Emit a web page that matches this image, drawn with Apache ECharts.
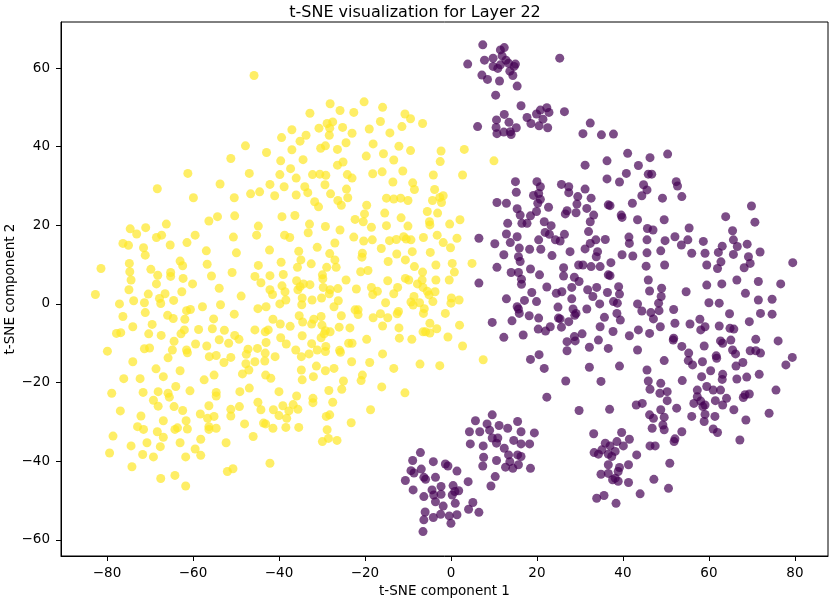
<!DOCTYPE html>
<html>
<head>
<meta charset="utf-8">
<script src="https://cdn.jsdelivr.net/npm/echarts@6/dist/echarts.min.js"></script>
<style>
  html, body { margin: 0; padding: 0; background: #fff; }
  #chart { width: 830px; height: 600px; }
</style>
</head>
<body>
<div id="chart"></div>
<script>
// tick labels
const xTicks = [-80, -60, -40, -20, 0, 20, 40, 60, 80];
const yTicks = [-60, -40, -20, 0, 20, 40, 60];

// label 1 (yellow) points
const yellowPoints = [
  [-51.2, 37.0], [-61.2, 33.2], [-68.3, 29.3], [-53.7, 30.5], [-59.9, 27.0], [-50.4, 27.0],
  [-45.8, 58.1], [-47.8, 40.2], [-28.1, 50.9], [-20.2, 51.4], [-32.8, 48.5], [-25.8, 49.2],
  [-22.6, 48.7], [-15.9, 50.0], [-10.7, 48.3], [-9.4, 47.1], [-6.6, 45.9], [-28.8, 45.9],
  [-27.5, 46.3], [-30.7, 44.7], [-28.2, 44.7], [-25.2, 44.9], [-19.0, 44.5], [-16.4, 46.4],
  [-11.4, 45.1], [-37.0, 44.3], [-39.4, 42.3], [-33.7, 42.9], [-35.1, 41.4], [-28.3, 42.9],
  [-23.0, 43.4], [-14.2, 43.5], [-24.4, 41.0], [-18.1, 40.7], [-42.9, 38.5], [-37.0, 39.2],
  [-30.3, 39.6], [-29.2, 40.2], [-26.4, 39.3], [-12.1, 40.1], [-9.4, 39.0], [-2.3, 38.9],
  [3.1, 39.3], [-19.7, 37.6], [-15.7, 38.2], [-13.3, 36.6], [-2.5, 36.2], [-39.6, 36.4],
  [-34.4, 36.7], [-26.4, 35.3], [-25.1, 36.1], [-46.9, 33.2], [-39.8, 32.9], [-37.3, 34.4],
  [-36.0, 32.0], [-32.2, 32.9], [-30.5, 33.0], [-29.1, 32.7], [-24.1, 32.9], [-23.0, 32.0],
  [-18.2, 33.1], [-16.0, 33.6], [-11.2, 33.8], [-4.1, 32.8], [2.7, 32.8], [-42.1, 30.4],
  [-38.8, 29.8], [-34.0, 29.8], [-33.3, 28.3], [-29.3, 30.3], [-24.3, 29.2], [-13.5, 31.0],
  [-8.9, 30.8], [-8.5, 29.1], [-3.8, 29.1], [-46.6, 28.0], [-44.5, 28.5], [-41.0, 27.5],
  [-36.0, 27.7], [-28.0, 28.0], [-24.0, 27.0], [-26.3, 26.3], [-31.7, 26.0], [-30.8, 24.7],
  [-25.5, 25.1], [-19.6, 25.1], [-15.0, 26.9], [-13.3, 26.7], [-11.7, 26.9], [-10.0, 26.3],
  [-4.3, 26.3], [-2.6, 27.1], [-1.8, 27.5], [-2.2, 25.8], [10.0, 36.4],
  [-56.3, 21.1], [-54.3, 22.2], [-50.3, 22.4], [-74.6, 19.1], [-73.1, 17.8], [-71.0, 19.4],
  [-66.2, 20.3], [-68.5, 16.9], [-67.3, 17.5], [-76.3, 15.4], [-75.0, 14.9], [-71.5, 14.3],
  [-71.1, 12.4], [-65.3, 15.0], [-61.4, 15.6], [-59.5, 17.5], [-50.6, 17.0], [-56.9, 13.5],
  [-49.9, 13.0], [-81.4, 9.0], [-74.8, 10.3], [-74.7, 8.2], [-74.4, 6.1], [-69.8, 8.8],
  [-68.2, 7.3], [-63.0, 10.9], [-62.4, 9.7], [-65.2, 8.0], [-65.2, 7.0], [-62.3, 6.5],
  [-60.1, 5.1], [-68.5, 5.1], [-56.7, 10.1], [-55.7, 7.1], [-50.9, 8.0], [-82.7, 2.4],
  [-74.9, 3.6], [-70.4, 2.5], [-66.5, 2.6], [-62.6, 3.1], [-53.9, 4.0], [-48.8, 2.0],
  [-77.1, 0.0], [-73.8, 0.8], [-71.3, 0.3], [-67.8, 1.4], [-67.5, 0.1], [-64.5, 0.9],
  [-76.3, -3.2], [-71.1, -2.2], [-65.9, -2.9], [-64.6, -3.7], [-61.9, -3.9], [-61.5, -1.7],
  [-60.6, -1.4], [-57.8, -0.7], [-53.6, -0.2], [-55.2, -3.8], [-50.4, -2.6], [-74.0, -5.8],
  [-70.3, -7.6], [-67.4, -8.0], [-69.5, -5.2], [-77.8, -7.5], [-76.8, -7.3], [-62.8, -7.6],
  [-62.0, -6.6], [-58.7, -6.5], [-55.5, -6.3], [-52.7, -6.7], [-50.3, -8.0], [-49.3, -9.0],
  [-53.9, -9.1], [-51.7, -10.0], [-79.9, -12.0], [-71.3, -11.4], [-70.1, -11.2], [-64.4, -9.5],
  [-64.8, -11.7], [-61.5, -11.7], [-61.3, -12.4], [-59.4, -10.2], [-56.8, -10.7], [-65.8, -13.7],
  [-56.2, -13.4], [-54.6, -13.1], [-51.2, -13.6],
  [-39.3, 22.2], [-36.3, 22.5], [-44.8, 19.8], [-45.2, 17.5], [-32.9, 20.3], [-33.2, 18.1],
  [-29.2, 19.7], [-25.8, 18.8], [-22.3, 21.5], [-20.1, 22.9], [-20.4, 20.9], [-18.5, 19.5],
  [-15.4, 23.1], [-15.0, 19.9], [-11.6, 21.9], [-10.0, 19.8], [-5.5, 23.5], [-3.1, 23.1],
  [-5.0, 20.9], [-4.9, 20.1], [-0.3, 20.3], [2.1, 21.4], [-38.7, 17.5], [-37.5, 16.9],
  [-31.1, 14.4], [-27.0, 15.5], [-22.6, 17.0], [-20.3, 16.0], [-18.3, 16.3], [-16.2, 14.1],
  [-14.3, 16.1], [-12.7, 16.4], [-11.0, 17.1], [-10.4, 16.5], [-9.3, 16.3], [-6.4, 16.9],
  [-3.2, 17.5], [-1.8, 15.6], [-0.1, 14.3], [1.4, 16.7], [-42.2, 13.7], [-35.4, 13.4],
  [-34.9, 11.2], [-39.5, 10.6], [-44.8, 9.8], [-32.5, 10.2], [-28.2, 12.8], [-27.0, 11.2],
  [-26.7, 9.3], [-28.9, 9.3], [-35.7, 9.3], [-20.6, 12.9], [-20.7, 11.9], [-14.6, 10.8],
  [-12.6, 12.7], [-10.6, 11.2], [-9.0, 13.3], [-8.5, 9.5], [-3.5, 9.9], [-4.8, 13.1],
  [0.3, 10.3], [0.8, 8.1], [4.9, 10.3], [-45.6, 7.0], [-44.2, 5.4], [-42.1, 7.2],
  [-39.0, 7.5], [-35.9, 5.9], [-34.3, 5.1], [-32.8, 4.9], [-29.9, 7.4], [-29.8, 6.4],
  [-24.4, 6.1], [-21.0, 8.2], [-19.3, 8.5], [-14.7, 5.9], [-10.6, 6.5], [-9.8, 6.1],
  [-7.8, 5.1], [-6.6, 8.1], [-6.7, 6.1], [-3.5, 6.1], [-0.4, 6.1], [-42.1, 3.6],
  [-41.5, 2.4], [-39.3, 4.6], [-38.6, 3.1], [-38.4, 1.0], [-39.8, 0.0], [-35.6, 3.6],
  [-35.1, 4.4], [-34.6, 1.5], [-34.7, -0.2], [-32.3, 1.0], [-30.1, 1.5], [-29.7, 4.2],
  [-28.1, 3.6], [-26.3, 3.9], [-28.3, 2.6], [-27.2, -0.7], [-26.2, 0.8], [-22.0, 3.8],
  [-18.5, 4.2], [-18.2, 2.4], [-17.1, 3.2], [-15.2, 0.3], [-13.3, 2.6], [-12.4, 4.2],
  [-8.6, 1.9], [-9.3, 0.5], [-7.3, 0.3], [-6.5, 4.2], [-5.5, 3.2], [-5.1, 2.3],
  [-3.7, 3.1], [-4.2, 0.6], [0.1, 1.5], [0.0, 0.2], [1.9, 1.0], [-44.9, -1.2],
  [-43.0, -0.7], [-41.4, -3.9], [-39.7, -5.1], [-37.4, -5.7], [-35.3, -3.0], [-34.5, -4.6],
  [-32.4, -5.1], [-31.9, -3.9], [-30.2, -3.2], [-30.0, -5.4], [-29.2, -6.8], [-28.1, -7.1],
  [-25.5, -3.0], [-26.0, -5.9], [-23.5, -6.1], [-22.3, -1.5], [-21.6, -1.5], [-21.6, -2.7],
  [-18.1, -3.5], [-16.4, -2.5], [-15.9, -5.6], [-14.7, -3.5], [-12.2, -1.9], [-12.5, -2.5],
  [-12.1, -6.1], [-8.8, -0.3], [-6.4, -2.4], [-6.2, -1.2], [-4.9, -4.9], [-5.9, -7.1],
  [-4.9, -7.4], [-3.3, -6.3], [-1.3, -2.4], [2.0, -5.4], [-45.6, -6.6], [-43.2, -7.1],
  [-42.5, -6.6], [-43.0, -9.8], [-39.6, -8.6], [-38.3, -10.2], [-34.6, -8.1], [-32.4, -10.1],
  [-30.2, -8.6], [-29.5, -7.6], [-25.9, -11.8], [-23.8, -10.0], [-23.0, -10.0], [-19.6, -9.0],
  [-15.9, -12.7], [-12.0, -8.7], [-9.1, -9.0], [-6.5, -7.1], [-0.7, -8.4], [2.7, -10.7],
  [-45.0, -11.3], [-47.2, -11.5], [-47.6, -12.8], [-43.2, -12.5], [-40.9, -13.4], [-36.1, -11.7],
  [-34.8, -13.4], [-33.0, -12.7], [-31.1, -11.7], [-29.1, -10.8], [-29.2, -12.1], [-25.7, -12.3],
  [-74.0, -14.7], [-52.8, -14.9], [-47.7, -15.2], [-45.6, -14.7], [-43.3, -14.5], [-31.3, -15.8],
  [-27.2, -16.4], [-29.2, -17.0], [-34.8, -16.8], [-68.6, -16.5], [-63.0, -17.0], [-66.9, -18.5],
  [-76.1, -19.0], [-72.3, -19.0], [-55.1, -18.1], [-57.4, -19.3], [-48.5, -17.8], [-47.0, -16.8],
  [-43.1, -18.1], [-41.9, -18.9], [-34.6, -19.3], [-32.0, -18.5], [-78.9, -22.7], [-71.6, -22.5],
  [-68.1, -22.3], [-65.8, -22.7], [-65.5, -23.7], [-64.0, -21.0], [-60.7, -22.1], [-54.6, -22.5],
  [-54.6, -23.4], [-49.1, -22.3], [-46.9, -21.4], [-40.0, -22.3], [-35.9, -23.4], [-32.1, -24.0],
  [-32.1, -25.1], [-28.4, -22.0], [-76.9, -27.2], [-69.2, -24.5], [-68.1, -26.0], [-64.4, -26.1],
  [-62.4, -27.1], [-58.3, -28.0], [-56.3, -25.9], [-55.1, -28.6], [-56.6, -29.1], [-51.2, -26.8],
  [-49.2, -26.1], [-51.2, -28.5], [-44.9, -25.0], [-44.2, -26.9], [-41.3, -26.9], [-40.0, -28.4],
  [-39.1, -25.9], [-37.7, -27.2], [-36.7, -25.6], [-35.6, -26.8], [-38.2, -29.1], [-27.5, -25.0],
  [-29.0, -28.6], [-28.2, -28.2], [-72.1, -28.5], [-66.9, -29.7], [-61.6, -29.7], [-72.9, -31.2],
  [-71.5, -31.9], [-64.2, -31.9], [-63.6, -31.5], [-61.3, -31.8], [-56.3, -31.2], [-56.3, -31.9],
  [-54.6, -31.6], [-48.0, -30.5], [-43.6, -30.3], [-43.1, -30.5], [-41.4, -31.6], [-38.4, -31.4],
  [-35.4, -31.4], [-28.8, -32.0], [-78.6, -33.6], [-68.3, -32.5], [-66.9, -33.9], [-58.2, -34.4],
  [-63.0, -35.3], [-52.3, -35.3], [-46.0, -33.7], [-29.9, -35.0], [-28.5, -34.2], [-26.5, -34.7],
  [-79.4, -37.9], [-74.4, -36.1], [-70.7, -35.3], [-67.6, -36.3], [-71.7, -38.3], [-69.2, -38.9],
  [-61.7, -38.9], [-59.5, -36.9], [-58.2, -38.5], [-74.2, -41.4], [-42.1, -40.5], [-52.0, -42.6],
  [-50.7, -41.9], [-67.5, -44.4], [-64.2, -43.6], [-61.7, -46.3],
  [-23.1, -14.7], [-18.9, -14.9], [-13.3, -16.4], [-7.2, -15.3], [-2.6, -15.7], [7.5, -14.2],
  [-20.6, -18.1], [-20.9, -19.5], [-25.0, -19.6], [-25.4, -21.7], [-16.1, -21.1], [-10.7, -22.6],
  [-18.7, -26.9], [-23.2, -30.2]
];

// label 0 (purple) points
const purplePoints = [
  [7.4, 65.9], [11.5, 64.6], [12.4, 65.2], [3.9, 61.0], [7.8, 62.0], [9.8, 62.5],
  [11.9, 63.1], [12.8, 62.0], [9.8, 60.4], [10.9, 59.9], [11.5, 60.8], [13.4, 61.2],
  [14.7, 60.4], [15.0, 61.0], [7.2, 58.2], [8.5, 57.1], [11.3, 56.7], [13.7, 59.2],
  [14.4, 58.1], [15.4, 55.4], [10.4, 53.1], [25.3, 62.5], [16.3, 50.4], [12.4, 48.2],
  [10.6, 46.8], [13.5, 46.2], [10.5, 44.9], [10.7, 43.3], [12.3, 43.7], [14.0, 43.1],
  [13.8, 43.8], [15.2, 44.8], [17.7, 47.4], [18.6, 45.9], [19.9, 48.3], [20.8, 49.3],
  [22.3, 49.9], [22.8, 48.7], [21.4, 47.0], [20.5, 45.3], [22.5, 44.8], [26.4, 48.9],
  [6.2, 45.1], [32.4, 46.0], [30.7, 43.3], [31.2, 35.3], [15.0, 31.1], [20.0, 31.1],
  [20.8, 29.8], [25.7, 30.4], [27.4, 29.8], [31.2, 29.2],
  [35.0, 43.0], [37.8, 43.2], [41.1, 38.3], [46.3, 37.2], [50.4, 38.1], [36.3, 36.4],
  [43.6, 35.2], [40.8, 33.2], [36.3, 31.8], [39.2, 31.0], [45.9, 33.0], [46.7, 33.0],
  [44.8, 30.3], [45.6, 29.0], [44.4, 27.5], [52.4, 31.1], [52.7, 30.0], [53.7, 27.3],
  [49.2, 26.9], [42.2, 25.6], [37.0, 25.0], [39.6, 22.6], [39.8, 22.0], [43.4, 21.4],
  [49.6, 21.4], [45.7, 19.2], [47.0, 18.8], [55.4, 19.3], [41.4, 17.0], [41.5, 15.4],
  [45.6, 16.3], [49.8, 16.1], [52.1, 17.1], [53.6, 15.0], [55.1, 16.3], [58.7, 15.9],
  [39.8, 12.5], [42.3, 12.2], [45.6, 13.0], [48.8, 13.5], [56.0, 12.9], [59.1, 12.9],
  [62.2, 13.1], [63.1, 14.7], [45.4, 9.6], [49.7, 9.9], [59.5, 9.9], [62.0, 9.0],
  [62.8, 10.7], [65.5, 18.6], [65.7, 16.3], [66.6, 14.6], [65.7, 12.6], [68.9, 15.2],
  [69.2, 12.0], [69.6, 10.3], [68.2, 9.2], [71.9, 13.2], [69.9, 24.9], [70.7, 20.8],
  [63.9, 22.2], [79.5, 10.5], [37.2, 10.5], [37.0, 7.2],
  [15.2, 28.4], [19.2, 27.6], [20.4, 28.1], [20.8, 26.6], [20.2, 25.6], [10.7, 25.8],
  [12.9, 25.6], [15.4, 24.2], [16.1, 22.6], [18.5, 22.4], [19.9, 23.5], [22.7, 24.6],
  [27.0, 23.7], [26.6, 22.9], [29.1, 23.2], [27.4, 28.3], [29.5, 27.3], [32.6, 26.9],
  [29.3, 25.4], [31.6, 24.3], [33.2, 22.6], [32.4, 20.9], [36.6, 25.2], [13.2, 20.5],
  [16.5, 20.5], [17.7, 20.5], [21.7, 20.9], [23.3, 19.9], [21.9, 18.2], [22.9, 17.7],
  [20.4, 16.3], [24.3, 16.3], [26.4, 17.7], [25.4, 16.0], [12.9, 17.8], [15.4, 17.1],
  [13.8, 15.6], [10.2, 15.3], [6.5, 16.7], [32.0, 18.4], [33.7, 16.3], [32.4, 15.4],
  [35.9, 16.4], [34.1, 13.3], [33.8, 12.0], [31.2, 14.0], [27.7, 13.3], [23.5, 12.3],
  [20.9, 13.9], [18.3, 13.9], [15.9, 14.2], [15.7, 12.0], [12.3, 12.5], [10.7, 9.3],
  [16.1, 10.8], [15.7, 8.0], [14.0, 8.0], [18.5, 8.9], [16.4, 6.3], [16.4, 5.0],
  [20.6, 7.4], [22.3, 4.3], [26.2, 9.2], [26.2, 7.1], [29.7, 9.9], [30.7, 9.9],
  [32.6, 9.5], [28.7, 6.8], [29.8, 5.7], [34.7, 9.5], [36.6, 7.4], [6.5, 5.3],
  [18.8, 2.9], [19.9, 0.6], [17.1, 0.9], [12.9, 1.3], [24.5, 2.7], [25.8, 3.1],
  [28.1, 4.2], [31.8, 3.6], [28.1, 1.3], [24.9, -0.8], [28.4, -1.3], [29.1, -2.4],
  [31.6, -1.3], [15.4, -0.7], [14.2, -4.3], [15.9, -2.4], [18.2, -3.0], [20.4, -3.6],
  [15.7, -1.3], [23.1, -5.8], [22.0, -6.9], [20.3, -6.4], [25.4, -3.8], [25.0, -3.6],
  [25.7, -5.9], [27.4, -4.5], [28.8, -2.9], [30.5, -7.6], [28.7, -8.3], [9.6, -4.7],
  [12.3, -8.5], [16.8, -7.9],
  [33.9, 4.2], [36.4, 2.9], [39.0, 4.4], [39.2, 2.5], [33.0, 1.9], [34.6, 0.0],
  [37.8, 0.6], [38.7, 0.2], [43.4, 0.0], [46.2, 3.3], [45.9, 6.1], [49.0, 4.0],
  [48.9, 1.9], [48.3, 0.2], [48.4, -1.7], [44.4, -1.8], [46.5, -2.2], [47.1, -3.8],
  [38.6, -2.4], [39.4, -4.1], [35.7, -3.4], [34.7, -5.8], [37.7, -7.0], [41.5, -8.1],
  [43.6, -6.6], [46.2, -7.5], [48.7, -5.8], [51.8, -1.4], [52.1, -4.9], [51.8, -8.7],
  [54.7, 3.1], [59.5, 4.8], [60.0, 0.3], [62.4, 0.2], [63.0, 5.1], [66.5, 6.1],
  [68.5, 2.7], [71.5, 5.7], [71.5, 1.0], [74.7, 1.2], [76.7, 5.1], [72.0, -2.4],
  [74.7, -2.6], [69.4, -4.5], [55.6, -5.1], [57.9, -3.9], [59.1, -5.8], [58.1, -6.6],
  [62.4, -5.6], [64.8, -2.5], [64.9, -6.2], [65.8, -6.4], [62.7, -9.4], [63.2, -10.0],
  [65.1, -9.2], [65.5, -11.7], [66.2, -12.7], [69.6, -11.9], [70.9, -11.9], [72.0, -12.5],
  [70.9, -9.0], [76.1, -9.4], [58.9, -10.7], [55.3, -12.5], [55.2, -14.4], [56.2, -15.5],
  [58.5, -14.7], [61.7, -13.2], [61.8, -13.8], [67.9, -14.9], [66.3, -15.8], [60.4, -17.0],
  [58.3, -18.5], [63.2, -17.9], [63.1, -19.2], [66.5, -19.1], [68.8, -18.6], [71.7, -17.9],
  [77.9, -15.5], [79.4, -13.6], [75.6, -21.9], [74.0, -27.8], [68.6, -29.5], [68.4, -23.1],
  [68.0, -23.8], [69.4, -22.9], [65.8, -26.9], [59.5, -21.0], [61.0, -21.9], [62.7, -21.9],
  [64.1, -24.0], [61.5, -24.6], [63.2, -25.7], [59.1, -25.7], [57.3, -21.9], [57.3, -23.6],
  [58.1, -24.7], [56.5, -25.3], [58.6, -26.1], [59.1, -28.1], [61.4, -28.6], [56.0, -28.6],
  [58.9, -29.9], [61.0, -31.8], [62.0, -32.7], [67.2, -34.6],
  [18.5, -14.1], [20.5, -12.9], [21.7, -16.4], [27.0, -9.6], [28.9, -9.4], [27.0, -11.9],
  [32.2, -11.0], [34.3, -9.2], [36.6, -11.3], [39.2, -15.8], [32.2, -16.1], [26.7, -19.6],
  [34.9, -19.7], [43.4, -11.7], [45.6, -16.8], [49.6, -14.4], [51.7, -9.2], [53.7, -10.8],
  [22.3, -23.7], [29.8, -27.1], [36.9, -26.8], [43.1, -25.7], [44.5, -25.3], [45.9, -19.6],
  [46.3, -21.7], [48.8, -20.2], [50.3, -22.3], [48.6, -22.7], [50.3, -24.6], [52.5, -26.5],
  [53.8, -19.5], [46.2, -28.2], [47.1, -29.1], [48.8, -26.9], [49.6, -28.8], [49.3, -30.8],
  [49.6, -32.0], [46.8, -31.6], [52.1, -34.3], [51.9, -35.0], [53.7, -32.5], [50.9, -40.5],
  [47.2, -44.6], [50.6, -46.9], [46.3, -36.1], [47.5, -36.1], [43.2, -38.4], [44.0, -48.3],
  [33.2, -33.0], [39.7, -32.7], [41.5, -34.4], [35.9, -35.4], [37.0, -36.1], [38.6, -35.0],
  [40.1, -36.1], [35.1, -37.1], [33.3, -37.8], [34.3, -38.2], [36.6, -38.2], [38.2, -37.5],
  [37.4, -38.8], [41.3, -40.9], [36.6, -40.9], [39.2, -41.6], [38.9, -42.6], [34.9, -43.3],
  [36.6, -43.1], [37.6, -44.7], [38.9, -45.1], [41.3, -45.4], [33.9, -49.4], [35.6, -48.7],
  [38.4, -50.7], [38.2, -44.3],
  [9.6, -28.2], [5.7, -29.7], [8.4, -30.5], [4.3, -32.5], [6.7, -32.5], [9.0, -32.1],
  [11.2, -30.9], [13.2, -31.6], [15.5, -29.9], [16.3, -32.5], [19.4, -32.8], [4.5, -35.6],
  [7.5, -36.1], [9.6, -34.1], [10.9, -34.1], [10.6, -35.4], [12.4, -36.7], [14.6, -34.7],
  [16.3, -35.6], [18.3, -35.6], [7.6, -39.0], [10.6, -39.8], [13.4, -38.4], [15.5, -38.4],
  [16.3, -38.8], [13.7, -40.1], [12.7, -41.5], [14.4, -41.8], [15.7, -40.9], [18.5, -41.8],
  [7.4, -41.2], [10.3, -43.9], [9.3, -46.3],
  [-7.1, -37.8], [-8.9, -39.8], [-4.1, -40.1], [-9.3, -42.4], [-6.9, -42.0], [-8.6, -43.0],
  [-6.3, -44.1], [-5.9, -44.6], [-3.6, -44.1], [-1.3, -40.7], [-0.7, -41.2], [1.4, -42.5],
  [-10.6, -44.9], [-8.8, -47.3], [4.0, -45.2], [-2.3, -46.4], [-4.4, -47.3], [-6.3, -49.0],
  [-4.0, -48.6], [-2.3, -48.4], [0.5, -46.2], [0.9, -47.7], [1.8, -47.5], [0.3, -48.6],
  [1.0, -50.7], [-3.6, -50.3], [-1.8, -51.4], [-6.0, -52.9], [-6.3, -54.9], [-4.1, -54.3],
  [-2.4, -53.5], [-0.4, -53.9], [1.4, -53.6], [0.0, -55.8], [4.1, -52.2], [5.1, -50.5],
  [6.5, -53.0], [-6.5, -57.9]
];

const chart = echarts.init(document.getElementById('chart'), null, { renderer: 'canvas' });

const fontFamily = 'DejaVu Sans';
const minus = (v) => String(v).replace('-', '\u2212');

chart.setOption({
  animation: false,
  backgroundColor: '#ffffff',
  title: {
    text: 't-SNE visualization for Layer 22',
    left: 'center',
    top: 0,
    textStyle: { fontFamily, fontSize: 16, fontWeight: 'normal', color: '#000' },
  },
  grid: {
    left: 61,
    right: 2,
    top: 22,
    bottom: 44,
    outerBoundsMode: 'none',
    containLabel: false,
    show: true,
    borderColor: '#000',
    borderWidth: 1,
    backgroundColor: 'transparent',
  },
  xAxis: {
    type: 'value',
    min: -90.7,
    max: 87.7,
    name: 't-SNE component 1',
    nameLocation: 'middle',
    nameGap: 28,
    nameMoveOverlap: false,
    nameTextStyle: { fontFamily, fontSize: 13.5, color: '#000' },
    axisLine: { show: true, onZero: false, lineStyle: { color: '#000', width: 1 } },
    axisTick: {
      show: true,
      length: 5,
      customValues: xTicks,
      lineStyle: { color: '#000' },
    },
    axisLabel: {
      customValues: xTicks,
      fontFamily,
      fontSize: 13.5,
      color: '#000',
      margin: 10,
      formatter: minus,
    },
    splitLine: { show: false },
  },
  yAxis: {
    type: 'value',
    min: -64.1,
    max: 71.7,
    name: 't-SNE component 2',
    nameLocation: 'middle',
    nameGap: 44,
    nameRotate: 90,
    nameMoveOverlap: false,
    nameTextStyle: { fontFamily, fontSize: 13.5, color: '#000' },
    axisLine: { show: true, onZero: false, lineStyle: { color: '#000', width: 1 } },
    axisTick: {
      show: true,
      length: 5,
      customValues: yTicks,
      lineStyle: { color: '#000' },
    },
    axisLabel: {
      customValues: yTicks,
      fontFamily,
      fontSize: 13.5,
      color: '#000',
      margin: 11,
      formatter: minus,
    },
    splitLine: { show: false },
  },
  series: [
    {
      name: 'label 1',
      type: 'scatter',
      data: yellowPoints,
      symbolSize: 9,
      itemStyle: { color: '#fde725', opacity: 0.7 },
    },
    {
      name: 'label 0',
      type: 'scatter',
      data: purplePoints,
      symbolSize: 9,
      itemStyle: { color: '#440154', opacity: 0.7 },
    },
  ],
});
</script>
</body>
</html>
